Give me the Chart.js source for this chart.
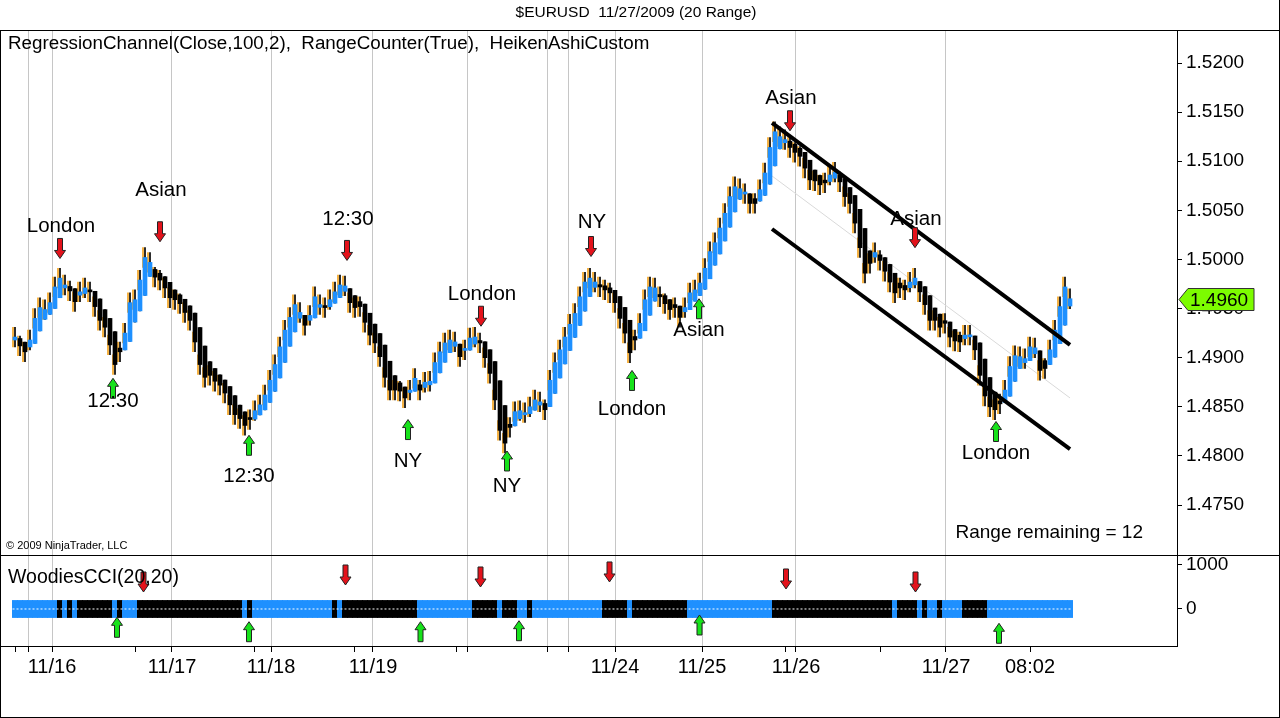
<!DOCTYPE html>
<html lang="en">
<head>
<meta charset="UTF-8">
<title>$EURUSD 11/27/2009 (20 Range)</title>
<script src="https://cdn.jsdelivr.net/npm/chart.js"></script>
<style>
  html, body { margin: 0; padding: 0; background: #fff; }
  canvas { display: block; }
</style>
</head>
<body>
<canvas id="myChart" width="1280" height="718"></canvas>
<script>
// Heiken Ashi close of every 20-range bar
var haClose = [
  1.4921, 1.4912, 1.4906, 1.4918, 1.4940, 1.4951, 1.4949, 1.4956, 1.4972, 1.4981,
  1.4974, 1.4968, 1.4957, 1.4967, 1.4971, 1.4967, 1.4952, 1.4938, 1.4931, 1.4913,
  1.4893, 1.4906, 1.4925, 1.4956, 1.4959, 1.4979, 1.5002, 1.4997, 1.4982, 1.4979,
  1.4971, 1.4961, 1.4959, 1.4955, 1.4946, 1.4938, 1.4916, 1.4893, 1.4880, 1.4882,
  1.4876, 1.4872, 1.4864, 1.4852, 1.4842, 1.4838, 1.4831, 1.4837, 1.4846, 1.4852,
  1.4862, 1.4877, 1.4893, 1.4911, 1.4928, 1.4941, 1.4954, 1.4946, 1.4933, 1.4943,
  1.4962, 1.4954, 1.4951, 1.4959, 1.4967, 1.4974, 1.4973, 1.4956, 1.4951, 1.4952,
  1.4936, 1.4923, 1.4915, 1.4901, 1.4880, 1.4867, 1.4867, 1.4866, 1.4859, 1.4867,
  1.4879, 1.4867, 1.4875, 1.4876, 1.4895, 1.4906, 1.4915, 1.4918, 1.4916, 1.4901,
  1.4908, 1.4920, 1.4921, 1.4915, 1.4900, 1.4884, 1.4857, 1.4826, 1.4813, 1.4829,
  1.4845, 1.4846, 1.4844, 1.4850, 1.4857, 1.4855, 1.4847, 1.4877, 1.4895, 1.4908,
  1.4921, 1.4934, 1.4945, 1.4962, 1.4977, 1.4981, 1.4977, 1.4972, 1.4969, 1.4966,
  1.4956, 1.4940, 1.4925, 1.4905, 1.4918, 1.4935, 1.4959, 1.4972, 1.4971, 1.4962,
  1.4955, 1.4949, 1.4951, 1.4941, 1.4951, 1.4966, 1.4969, 1.4976, 1.4991, 1.5008,
  1.5017, 1.5032, 1.5047, 1.5064, 1.5074, 1.5072, 1.5067, 1.5057, 1.5057, 1.5071,
  1.5088, 1.5114, 1.5130, 1.5125, 1.5122, 1.5114, 1.5109, 1.5105, 1.5093, 1.5081,
  1.5080, 1.5076, 1.5078, 1.5086, 1.5089, 1.5079, 1.5064, 1.5057, 1.5037, 1.5012,
  1.4986, 1.4996, 1.5007, 1.4999, 1.4988, 1.4977, 1.4966, 1.4971, 1.4969, 1.4977,
  1.4981, 1.4967, 1.4954, 1.4938, 1.4938, 1.4931, 1.4935, 1.4921, 1.4917, 1.4916,
  1.4923, 1.4923, 1.4908, 1.4882, 1.4861, 1.4850, 1.4847, 1.4853, 1.4867, 1.4891,
  1.4902, 1.4901, 1.4899, 1.4911, 1.4910, 1.4887, 1.4889, 1.4908, 1.4928, 1.4952,
  1.4972, 1.4960
];
var firstOpen = 1.4918;
var barRange = 0.0020;   // 20 range
var lastPrice = 1.4960;
var rangeRemaining = 12;

// WoodiesCCI colour runs (b = blue, k = black) and run lengths in bars
var cciRunColor  = ['b','k','b','k','b','k','b','k','b','k','b','k','b','k','b','k','b','k','b','k','b','k','b','k','b','k','b','k','b','k','b','k','b','k','b','k','b'];
var cciRunLength = [ 9,  1,  1,  1,  1,  7,  1,  1,  3, 21,  1,  1, 16,  1,  1, 15, 11,  5,  1,  3,  2,  1, 14,  5,  1, 11, 17, 24,  1,  4,  1,  1,  2,  1,  4,  5, 17];
var cciBand = 195;

// time axis (bar index)
var xTickIdx  = [0, 2.6, 7.4, 24, 31.4, 48, 51.2, 67.8, 71.6, 88.2, 90.6, 106.4, 110.6, 120, 137.4, 154.2, 156.2, 173, 186.2, 203];
var xTickText = ['', '', '11/16', '', '11/17', '', '11/18', '', '11/19', '', '', '', '', '11/24', '11/25', '', '11/26', '', '11/27', '08:02'];
var sessionLines = [2.6, 7.4, 31.4, 51.2, 71.6, 90.6, 106.4, 110.6, 120, 137.4, 156.2, 186.2];

var priceTicks = [1.4750, 1.4800, 1.4850, 1.4900, 1.4950, 1.5000, 1.5050, 1.5100, 1.5150, 1.5200];
var cciTicks = [0, 1000];

// regression channel end points
var channelIdx   = [151.4, 211];
var channelUpper = [1.5139, 1.4913];
var channelMid   = [1.5085, 1.4859];
var channelLower = [1.5031, 1.4807];

// session arrows on the price panel
var downIdx    = [9, 29, 66.4, 93.2, 115.2, 155, 180];
var downTip    = [1.5001, 1.5018, 1.4999, 1.4932, 1.5003, 1.5131, 1.5012];
var downText   = ['London', 'Asian', '12:30', 'London', 'NY', 'Asian', 'Asian'];
var downTextAt = [1.5034, 1.5070, 1.5041, 1.4964, 1.5038, 1.5164, 1.5041];

var upIdx    = [19.6, 46.8, 78.6, 98.4, 123.4, 136.8, 196.2];
var upTip    = [1.4879, 1.4821, 1.4837, 1.4805, 1.4887, 1.4960, 1.4835];
var upText   = ['12:30', '12:30', 'NY', 'NY', 'London', 'Asian', 'London'];
var upTextAt = [1.4856, 1.4779, 1.4794, 1.4769, 1.4847, 1.4928, 1.4803];

// arrows on the CCI panel
var cciDownIdx = [25.7, 66.1, 93.1, 118.9, 154.2, 180.1];
var cciDownTip = [386, 545, 500, 614, 455, 386];
var cciUpIdx   = [20.4, 46.8, 81.1, 100.8, 136.9, 196.8];
var cciUpTip   = [-189, -289, -289, -266, -136, -325];

var FONT = '"Liberation Sans", Arial, sans-serif';
var BLUE = '#1e90ff';

// Heiken Ashi open from the previous bar
var haOpen = [];
haClose.forEach(function (c, i) {
    haOpen.push(i === 0 ? firstOpen : (haOpen[i - 1] + haClose[i - 1]) / 2);
});

var bodies = haClose.map(function (c, i) { return { x: i, y: [haOpen[i], c] }; });
var rawBars = haClose.map(function (c, i) { return { x: i - 0.4, y: [c - barRange / 2, c + barRange / 2] }; });
var wicks = haClose.map(function (c, i) {
    return { x: i, y: [Math.min(haOpen[i], c - barRange / 2), Math.max(haOpen[i], c + barRange / 2)] };
});

var cciColors = [];
cciRunColor.forEach(function (col, k) {
    for (var n = 0; n < cciRunLength[k]; n++) cciColors.push(col === 'b' ? BLUE : '#000');
});
var cciBars = haClose.map(function (c, i) { return { x: i, y: [-cciBand, cciBand] }; });

function arrow(ctx, x, tip, dir, fill) {
    // dir 1 = pointing down, -1 = pointing up
    var base = tip - dir * 20, neck = tip - dir * 8;
    ctx.beginPath();
    ctx.moveTo(x - 2.5, base);
    ctx.lineTo(x + 2.5, base);
    ctx.lineTo(x + 2.5, neck);
    ctx.lineTo(x + 5.5, neck);
    ctx.lineTo(x, tip);
    ctx.lineTo(x - 5.5, neck);
    ctx.lineTo(x - 2.5, neck);
    ctx.closePath();
    ctx.fillStyle = fill;
    ctx.fill();
    ctx.strokeStyle = '#222';
    ctx.lineWidth = 1;
    ctx.stroke();
}

function text(ctx, str, x, y, size, align) {
    ctx.font = size + 'px ' + FONT;
    ctx.fillStyle = '#000';
    ctx.textAlign = align || 'center';
    ctx.textBaseline = 'middle';
    ctx.fillText(str, x, y);
}

var overlay = {
    id: 'overlay',
    afterDatasetsDraw: function (chart) {
        var ctx = chart.ctx, xs = chart.scales.x, ys = chart.scales.y, yc = chart.scales.yc;
        ctx.save();
        downIdx.forEach(function (v, k) {
            var x = xs.getPixelForValue(v);
            arrow(ctx, x, ys.getPixelForValue(downTip[k]), 1, '#e3121b');
            text(ctx, downText[k], x + 1, ys.getPixelForValue(downTextAt[k]), 20.5);
        });
        upIdx.forEach(function (v, k) {
            var x = xs.getPixelForValue(v);
            arrow(ctx, x, ys.getPixelForValue(upTip[k]), -1, '#17e21b');
            text(ctx, upText[k], x, ys.getPixelForValue(upTextAt[k]), 20.5);
        });
        cciDownIdx.forEach(function (v, k) {
            arrow(ctx, xs.getPixelForValue(v), yc.getPixelForValue(cciDownTip[k]), 1, '#e3121b');
        });
        cciUpIdx.forEach(function (v, k) {
            arrow(ctx, xs.getPixelForValue(v), yc.getPixelForValue(cciUpTip[k]), -1, '#17e21b');
        });
        ctx.restore();
    },
    afterDraw: function (chart) {
        var ctx = chart.ctx, ys = chart.scales.y, yc = chart.scales.yc, area = chart.chartArea;
        ctx.save();
        // frames
        ctx.strokeStyle = '#000';
        ctx.lineWidth = 1;
        ctx.beginPath();
        ctx.moveTo(0, ys.top + 0.5); ctx.lineTo(1280, ys.top + 0.5);
        ctx.moveTo(0, yc.top + 0.5); ctx.lineTo(1280, yc.top + 0.5);
        ctx.moveTo(0.5, ys.top); ctx.lineTo(0.5, 718);
        ctx.moveTo(1279.5, 0); ctx.lineTo(1279.5, 718);
        ctx.moveTo(0, 717.5); ctx.lineTo(1280, 717.5);
        ctx.moveTo(0, area.bottom + 0.5); ctx.lineTo(area.right, area.bottom + 0.5);
        ctx.stroke();

        text(ctx, '$EURUSD  11/27/2009 (20 Range)', 636, 13, 15.5);
        text(ctx, 'RegressionChannel(Close,100,2),  RangeCounter(True),  HeikenAshiCustom', 8, 44, 18.8, 'left');
        text(ctx, 'WoodiesCCI(20,20)', 8, 578, 19.5, 'left');
        text(ctx, '\u00a9 2009 NinjaTrader, LLC', 6, 546, 11, 'left');
        text(ctx, 'Range remaining = ' + rangeRemaining, 1143, 533, 19, 'right');

        // last price marker
        var py = Math.round(ys.getPixelForValue(lastPrice)) + 0.5;
        var x0 = area.right + 2;
        ctx.beginPath();
        ctx.moveTo(x0, py);
        ctx.lineTo(x0 + 9, py - 11);
        ctx.lineTo(1254, py - 11);
        ctx.lineTo(1254, py + 11);
        ctx.lineTo(x0 + 9, py + 11);
        ctx.closePath();
        ctx.fillStyle = '#7cfc00';
        ctx.fill();
        ctx.strokeStyle = '#333';
        ctx.stroke();
        text(ctx, lastPrice.toFixed(4), 1190, py + 1, 19, 'left');
        ctx.restore();
    }
};

var ctx = document.getElementById('myChart').getContext('2d');
var myChart = new Chart(ctx, {
    type: 'bar',
    data: {
        datasets: [
            {
                type: 'line', label: 'Upper', yAxisID: 'y',
                data: channelIdx.map(function (v, k) { return { x: v, y: channelUpper[k] }; }),
                borderColor: '#000', borderWidth: 4, pointRadius: 0
            },
            {
                type: 'line', label: 'Lower', yAxisID: 'y',
                data: channelIdx.map(function (v, k) { return { x: v, y: channelLower[k] }; }),
                borderColor: '#000', borderWidth: 4, pointRadius: 0
            },
            {
                type: 'line', label: 'CCI zero', yAxisID: 'yc',
                data: [{ x: -0.5, y: 0 }, { x: haClose.length - 0.5, y: 0 }],
                borderColor: '#fff', borderWidth: 1, borderDash: [2, 2], pointRadius: 0
            },
            {
                label: 'CCI', yAxisID: 'yc', data: cciBars, grouped: false,
                barThickness: 5.4,
                backgroundColor: function (c) { return cciColors[c.dataIndex]; }
            },
            {
                label: 'HA body', yAxisID: 'y', data: bodies, grouped: false,
                barThickness: 4, minBarLength: 2,
                backgroundColor: function (c) { return haClose[c.dataIndex] >= haOpen[c.dataIndex] ? BLUE : '#000'; }
            },
            {
                label: 'Range bar', yAxisID: 'y', data: rawBars, grouped: false,
                barThickness: 1, backgroundColor: '#f2a31f'
            },
            {
                label: 'HA wick', yAxisID: 'y', data: wicks, grouped: false,
                barThickness: 1, backgroundColor: '#000'
            },
            {
                type: 'line', label: 'Mid', yAxisID: 'y',
                data: channelIdx.map(function (v, k) { return { x: v, y: channelMid[k] }; }),
                borderColor: '#d9d9d9', borderWidth: 1, pointRadius: 0
            }
        ]
    },
    options: {
        responsive: false,
        animation: false,
        devicePixelRatio: 1,
        layout: { padding: { left: 3, right: 1, top: 30, bottom: 32 } },
        plugins: { legend: { display: false }, tooltip: { enabled: false } },
        scales: {
            x: {
                type: 'linear', min: -2.4, max: 232.4, offset: false, bounds: 'data',
                afterBuildTicks: function (s) { s.ticks = xTickIdx.map(function (v) { return { value: v }; }); },
                afterFit: function (s) { s.height = 40; },
                ticks: {
                    autoSkip: false, maxRotation: 0, padding: 3, color: '#000',
                    font: { family: FONT, size: 20 },
                    callback: function (v, i) { return xTickText[i]; }
                },
                grid: {
                    offset: false, tickLength: 6, tickColor: '#000',
                    color: function (c) { return c.tick && sessionLines.indexOf(c.tick.value) >= 0 ? '#c6c6c6' : 'rgba(0,0,0,0)'; }
                },
                border: { display: true, color: '#000' }
            },
            y: {
                type: 'linear', position: 'right', stack: 'panes', stackWeight: 525,
                min: 1.46991, max: 1.52336, bounds: 'data',
                afterBuildTicks: function (s) { s.ticks = priceTicks.map(function (v) { return { value: v }; }); },
                afterFit: function (s) { s.width = 102; },
                ticks: {
                    color: '#000', padding: 4, font: { family: FONT, size: 19 },
                    callback: function (v) { return Number(v).toFixed(4); }
                },
                grid: { drawOnChartArea: false, tickLength: 5, color: '#000' },
                border: { display: true, color: '#000' }
            },
            yc: {
                type: 'linear', position: 'right', stack: 'panes', stackWeight: 91,
                min: -841, max: 1227, bounds: 'data',
                afterBuildTicks: function (s) { s.ticks = cciTicks.map(function (v) { return { value: v }; }); },
                afterFit: function (s) { s.width = 102; },
                ticks: {
                    color: '#000', padding: 4, font: { family: FONT, size: 19 },
                    callback: function (v) { return String(v); }
                },
                grid: { drawOnChartArea: false, tickLength: 5, color: '#000' },
                border: { display: true, color: '#000' }
            }
        }
    },
    plugins: [overlay]
});
</script>
</body>
</html>
